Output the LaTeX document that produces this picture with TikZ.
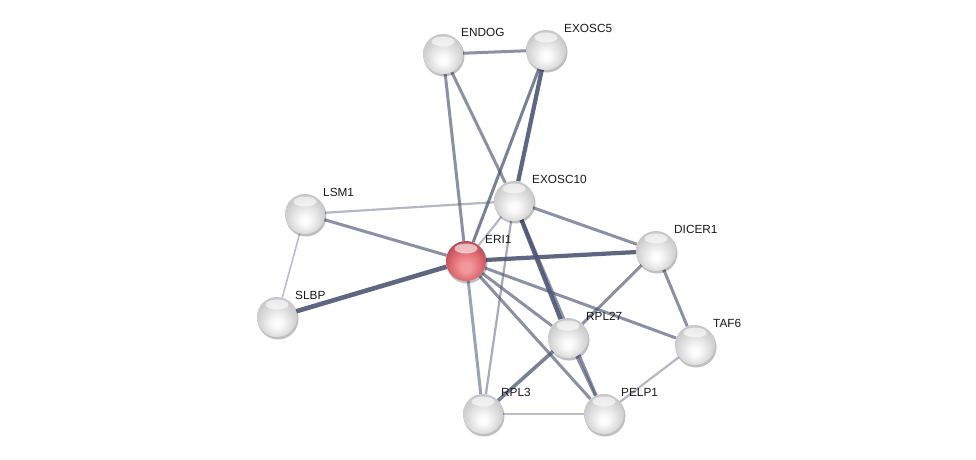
\documentclass[tikz,border=0pt]{standalone}
\usepackage{fontspec}
\setmainfont{Liberation Sans}
\usepackage{xcolor}
\usetikzlibrary{positioning,backgrounds}

\definecolor{edgeblue}{RGB}{78,86,116}
\definecolor{redlow}{RGB}{242,152,156}
\definecolor{redmid}{RGB}{226,112,118}
\definecolor{rededge}{RGB}{194,80,90}
\definecolor{redrim}{RGB}{170,60,70}

\pgfdeclareradialshading{greyball}{\pgfpoint{0bp}{-9bp}}{color(0bp)=(white); color(6bp)=(gray!4); color(17bp)=(gray!24); color(27bp)=(gray!42); color(35bp)=(gray!56); color(50bp)=(gray!56)}
\pgfdeclareradialshading{redball}{\pgfpoint{0bp}{-9bp}}{color(0bp)=(redlow); color(6bp)=(redlow); color(17bp)=(redmid); color(27bp)=(rededge); color(35bp)=(redrim); color(50bp)=(redrim)}

\begin{document}
\begin{tikzpicture}[
    x=1pt, y=-1pt,
    protein/.style={circle, minimum size=40pt, inner sep=0pt, shading=greyball,
        path picture={\fill[white, opacity=.6] ([yshift=12.5pt]path picture bounding box.center) ellipse (11.5pt and 5pt);}},
    query/.style={protein, shading=redball},
    lbl/.style={anchor=west, font=\fontsize{11.8}{14}\selectfont, text=black!90, inner sep=0pt},
    strong/.style={draw=edgeblue, line width=4.2pt, opacity=.9},
    medium/.style={draw=edgeblue, line width=3pt, opacity=.65},
    weak/.style={draw=edgeblue, line width=2.2pt, opacity=.42},
    faint/.style={draw=edgeblue, line width=1.6pt, opacity=.38}
]
\useasboundingbox (0,0) rectangle (976,459);

% Proteins
\node[protein] (endog)   at (443,54)  {};
\node[protein] (exosc5)  at (546,50)  {};
\node[protein] (exosc10) at (514,201) {};
\node[protein] (lsm1)    at (305,214) {};
\node[query]   (eri1)    at (466,261) {};
\node[protein] (dicer1)  at (656,251) {};
\node[protein] (slbp)    at (277,317) {};
\node[protein] (rpl27)   at (568,338) {};
\node[protein] (taf6)    at (695,345) {};
\node[protein] (rpl3)    at (483,414) {};
\node[protein] (pelp1)   at (604,414) {};

% Names
\node[lbl] (endog-l)   at ([shift={(18,-22)}]endog.center)   {ENDOG};
\node[lbl] (exosc5-l)  at ([shift={(18,-22)}]exosc5.center)  {EXOSC5};
\node[lbl] (exosc10-l) at ([shift={(18,-22)}]exosc10.center) {EXOSC10};
\node[lbl] (lsm1-l)    at ([shift={(18,-22)}]lsm1.center)    {LSM1};
\node[lbl] (eri1-l)    at ([shift={(19,-22)}]eri1.center)    {ERI1};
\node[lbl] (dicer1-l)  at ([shift={(18,-22)}]dicer1.center)  {DICER1};
\node[lbl] (slbp-l)    at ([shift={(18,-22)}]slbp.center)    {SLBP};
\node[lbl] (rpl27-l)   at ([shift={(18,-22)}]rpl27.center)   {RPL27};
\node[lbl] (taf6-l)    at ([shift={(18,-22)}]taf6.center)    {TAF6};
\node[lbl] (rpl3-l)    at ([shift={(18,-22)}]rpl3.center)    {RPL3};
\node[lbl] (pelp1-l)   at ([shift={(17,-22)}]pelp1.center)   {PELP1};

\begin{pgfonlayer}{background}
\fill[white] (0,0) rectangle (976,459);
% Interactions
\draw[medium] (endog) -- (exosc5);
\draw[medium] (endog) -- (eri1);
\draw[medium] (endog) -- (exosc10);
\draw[strong] (exosc5) -- (exosc10);
\draw[medium, opacity=.75] (exosc5) -- (eri1);
\draw[weak] (exosc10) -- (lsm1);
\draw[medium] (exosc10) -- (dicer1);
\draw[weak] (exosc10) -- (eri1);
\draw[strong] (exosc10) -- (rpl27);
\draw[medium] (exosc10) -- (pelp1);
\draw[weak, opacity=.5] (exosc10) -- (rpl3);
\draw[medium] (lsm1) -- (eri1);
\draw[faint] (lsm1) -- (slbp);
\draw[strong, line width=4.6pt] (slbp) -- (eri1);
\draw[strong] (eri1) -- (dicer1);
\draw[medium] (eri1) -- (rpl27);
\draw[medium] (eri1) -- (taf6);
\draw[medium] (eri1) -- (pelp1);
\draw[medium, opacity=.55] (eri1) -- (rpl3);
\draw[medium] (dicer1) -- (rpl27);
\draw[medium] (dicer1) -- (taf6);
\draw[strong, line width=3.6pt, opacity=.75] (rpl27) -- (rpl3);
\draw[medium] (rpl27) -- (pelp1);
\draw[weak] (taf6) -- (pelp1);
\draw[faint, line width=2pt] (rpl3) -- (pelp1);
% Shadows
\foreach \p in {endog,exosc5,exosc10,lsm1,eri1,dicer1,slbp,rpl27,taf6,rpl3,pelp1}
  \fill[black, opacity=.25] ([shift={(1,2)}]\p.center) circle (20.5pt);
\end{pgfonlayer}
\end{tikzpicture}
\end{document}
